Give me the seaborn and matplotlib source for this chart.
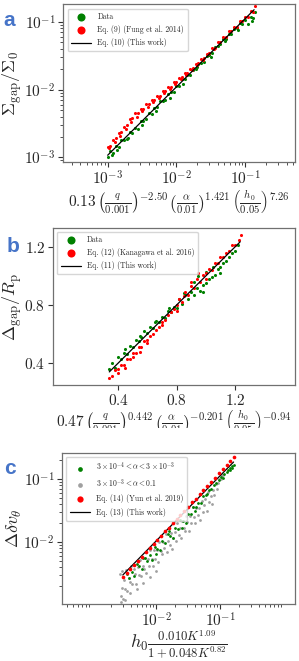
import numpy as np
import matplotlib
matplotlib.use("Agg")
import matplotlib.pyplot as plt
import seaborn as sns
from matplotlib.transforms import Bbox, TransformedBbox

# ---------------- data (panel a, log10 values) ----------------
a_data_logx = [-3.00, -2.96, -2.92, -2.88, -2.84, -2.80, -2.76, -2.72, -2.68, -2.64,
               -2.60, -2.56, -2.52, -2.48, -2.44, -2.40, -2.36, -2.32, -2.28, -2.24,
               -2.20, -2.16, -2.12, -2.08, -2.04, -2.00, -1.96, -1.92, -1.88, -1.84,
               -1.80, -1.76, -1.72, -1.68, -1.64, -1.60, -1.56, -1.52, -1.48, -1.44,
               -1.40, -1.36, -1.32, -1.28, -1.24, -1.20, -1.16, -1.12, -1.08, -1.04,
               -1.00, -0.96, -0.92, -0.88, -0.86,
               -2.94, -2.86, -2.70, -2.50, -2.30, -2.10, -1.90, -1.70, -1.50, -1.30,
               -1.10, -0.90]
a_data_logy = [-2.99, -2.91, -2.94, -2.84, -2.85, -2.74, -2.75, -2.73, -2.63, -2.64,
               -2.57, -2.58, -2.46, -2.46, -2.43, -2.34, -2.36, -2.27, -2.26, -2.17,
               -2.17, -2.15, -2.06, -2.04, -2.04, -1.95, -1.94, -1.85, -1.85, -1.78,
               -1.79, -1.71, -1.70, -1.62, -1.60, -1.59, -1.50, -1.49, -1.46, -1.37,
               -1.36, -1.33, -1.25, -1.25, -1.18, -1.18, -1.10, -1.09, -1.02, -1.03,
               -0.97, -1.03, -0.92, -0.94, -0.86,
               -2.97, -2.90, -2.71, -2.52, -2.31, -2.12, -1.91, -1.67, -1.52, -1.28,
               -1.12, -0.99]
a_fung_logx = [-3.00, -2.96, -2.92, -2.88, -2.84, -2.80, -2.76, -2.72, -2.68, -2.64,
               -2.60, -2.56, -2.52, -2.48, -2.44, -2.40, -2.36, -2.32, -2.28, -2.24,
               -2.20, -2.16, -2.12, -2.08, -2.04, -2.00, -1.96, -1.92, -1.88, -1.84,
               -1.80, -1.76, -1.72, -1.68, -1.64, -1.60, -1.56, -1.52, -1.48, -1.44,
               -1.40, -1.36, -1.32, -1.28, -1.24, -1.20, -1.16, -1.12, -1.08, -1.04,
               -1.00, -0.96, -0.92, -0.88, -0.86,
               -2.98, -2.90, -2.82, -2.74, -2.66, -2.58, -2.50, -2.42, -2.34, -2.26,
               -2.18, -2.10, -2.02, -1.94, -1.86, -1.78, -1.70, -1.62, -1.54, -1.46]
a_fung_logy = [-2.85, -2.83, -2.74, -2.72, -2.64, -2.63, -2.55, -2.53, -2.44, -2.42,
               -2.35, -2.35, -2.29, -2.29, -2.21, -2.21, -2.15, -2.15, -2.09, -2.09,
               -2.02, -2.02, -1.96, -1.96, -1.89, -1.89, -1.83, -1.82, -1.76, -1.75,
               -1.69, -1.68, -1.62, -1.61, -1.55, -1.54, -1.47, -1.46, -1.39, -1.38,
               -1.30, -1.29, -1.23, -1.23, -1.14, -1.14, -1.08, -1.08, -0.99, -0.99,
               -0.92, -0.93, -0.84, -0.85, -0.77,
               -2.87, -2.77, -2.68, -2.58, -2.48, -2.41, -2.31, -2.25, -2.18, -2.12,
               -2.05, -1.99, -1.92, -1.85, -1.78, -1.71, -1.63, -1.56, -1.48, -1.40]
a_fit_logx = [-3.00, -0.87]
a_fit_logy = [-2.97, -0.82]

# ---------------- data (panel b, linear) ----------------
b_data_x = [0.34, 0.36, 0.38, 0.40, 0.42, 0.44, 0.46, 0.48, 0.50, 0.52, 0.54, 0.56,
            0.58, 0.60, 0.62, 0.64, 0.66, 0.68, 0.70, 0.72, 0.74, 0.76, 0.78, 0.80,
            0.82, 0.84, 0.86, 0.88, 0.90, 0.92, 0.94, 0.96, 0.98, 1.00, 1.02, 1.04,
            1.06, 1.08, 1.10, 1.12, 1.14, 1.16, 1.18, 1.20, 1.22,
            0.45, 0.55, 0.65, 0.75, 0.85, 0.95, 1.05, 0.92, 1.00, 0.98, 1.10]
b_data_y = [0.36, 0.40, 0.37, 0.44, 0.43, 0.47, 0.46, 0.52, 0.51, 0.56, 0.55, 0.58,
            0.62, 0.61, 0.65, 0.64, 0.69, 0.68, 0.72, 0.71, 0.76, 0.75, 0.79, 0.78,
            0.84, 0.81, 0.87, 0.84, 0.89, 0.87, 0.92, 0.90, 0.94, 0.95, 0.98, 0.99,
            1.01, 1.05, 1.06, 1.09, 1.10, 1.13, 1.16, 1.17, 1.21,
            0.50, 0.59, 0.68, 0.78, 0.88, 1.00, 1.06, 0.96, 1.03, 0.89, 1.02]
b_kan_x = [0.34, 0.36, 0.38, 0.40, 0.42, 0.44, 0.46, 0.48, 0.50, 0.52, 0.54, 0.56,
           0.58, 0.60, 0.62, 0.64, 0.66, 0.68, 0.70, 0.72, 0.74, 0.76, 0.78, 0.80,
           0.82, 0.84, 0.86, 0.88, 0.90, 0.92, 0.94, 0.96, 0.98, 1.00, 1.02, 1.04,
           1.06, 1.08, 1.10, 1.12, 1.14, 1.16, 1.18, 1.20, 1.23, 1.24,
           0.40, 0.50, 0.60, 0.70, 0.80, 0.85, 0.90, 0.95, 1.00, 0.45, 0.55]
b_kan_y = [0.30, 0.31, 0.35, 0.36, 0.39, 0.39, 0.43, 0.43, 0.47, 0.47, 0.51, 0.51,
           0.55, 0.56, 0.59, 0.60, 0.63, 0.65, 0.68, 0.70, 0.73, 0.75, 0.77, 0.80,
           0.84, 0.82, 0.89, 0.87, 0.93, 0.92, 0.98, 0.96, 1.01, 1.02, 1.05, 1.04,
           1.09, 1.09, 1.13, 1.13, 1.16, 1.17, 1.21, 1.21, 1.25, 1.28,
           0.33, 0.44, 0.54, 0.66, 0.76, 0.86, 0.96, 1.02, 0.98, 0.37, 0.48]
b_fit_x = [0.34, 1.235]
b_fit_y = [0.34, 1.235]

# ---------------- data (panel c, log10 values) ----------------
c_low_logx = [-2.45, -2.42, -2.38, -2.34, -2.30, -2.26, -2.22, -2.18, -2.14, -2.10,
              -2.06, -2.02, -1.98, -1.94, -1.90, -1.86, -1.82, -1.78, -1.74, -1.70,
              -1.66, -1.62, -1.58, -1.54, -1.50, -1.46, -1.42, -1.38, -1.34, -1.30,
              -1.26, -1.22, -1.18, -1.14, -1.10, -1.06, -1.02, -0.98, -0.94, -0.90,
              -0.87, -0.84, -0.81, -0.79,
              -2.40, -2.20, -2.00, -1.80, -1.60, -1.40, -1.20, -0.96, -0.85, -0.82]
c_low_logy = [-2.51, -2.57, -2.47, -2.53, -2.34, -2.38, -2.43, -2.25, -2.30, -2.20,
              -2.29, -2.07, -2.11, -2.12, -1.98, -2.02, -1.87, -1.90, -1.93, -1.77,
              -1.79, -1.65, -1.67, -1.69, -1.55, -1.56, -1.44, -1.45, -1.38, -1.38,
              -1.27, -1.26, -1.18, -1.16, -1.09, -1.07, -1.01, -0.97, -0.92, -0.89,
              -0.85, -0.83, -0.79, -0.78,
              -2.42, -2.25, -2.18, -1.83, -1.78, -1.50, -1.24, -0.99, -0.86, -0.82]
c_high_logx = [-2.56, -2.55, -2.54, -2.53, -2.52, -2.50, -2.49, -2.47, -2.45, -2.43,
               -2.41, -2.39, -2.37, -2.35, -2.33, -2.31, -2.29, -2.27, -2.25, -2.23,
               -2.21, -2.19, -2.17, -2.15, -2.13, -2.11, -2.09, -2.07, -2.05, -2.03,
               -2.01, -1.99, -1.97, -1.95, -1.93, -1.91, -1.89, -1.87, -1.85, -1.83,
               -1.81, -1.79, -1.77, -1.75, -1.73, -1.71, -1.69, -1.67, -1.65, -1.63,
               -1.61, -1.59, -1.57, -1.55, -1.53, -1.51, -1.49, -1.47, -1.45, -1.43,
               -1.41, -1.39, -1.37, -1.35, -1.33, -1.31, -1.29, -1.27, -1.25, -1.23,
               -1.21, -1.19, -1.17, -1.15, -1.13, -1.11, -1.09, -1.07, -1.05, -1.03,
               -1.01, -0.99, -0.97, -0.95,
               -2.55, -2.48, -2.40, -2.30, -2.20, -2.10, -2.00]
c_high_logy = [-2.51, -2.85, -2.72, -2.45, -2.90, -2.60, -2.74, -2.44, -2.78, -2.57,
               -2.63, -2.37, -2.67, -2.43, -2.51, -2.66, -2.40, -2.52, -2.28, -2.54,
               -2.37, -2.42, -2.25, -2.49, -2.26, -2.38, -2.13, -2.27, -2.37, -2.13,
               -2.26, -2.13, -2.32, -2.00, -2.14, -2.19, -2.00, -2.10, -1.87, -2.15,
               -1.98, -2.05, -1.85, -2.11, -1.93, -1.84, -1.98, -1.70, -1.88, -1.78,
               -1.93, -1.67, -1.78, -1.82, -1.58, -1.68, -1.82, -1.58, -1.69, -1.45,
               -1.60, -1.69, -1.46, -1.57, -1.46, -1.65, -1.34, -1.52, -1.41, -1.32,
               -1.51, -1.21, -1.37, -1.27, -1.39, -1.17, -1.26, -1.08, -1.15, -1.07,
               -1.00, -1.00, -0.94, -0.94,
               -2.95, -2.92, -2.80, -2.75, -2.65, -2.55, -2.45]
c_yun_logx = [-2.52, -2.46, -2.40, -2.34, -2.28, -2.22, -2.16, -2.10, -2.04, -1.98,
              -1.92, -1.86, -1.80, -1.74, -1.68, -1.62, -1.56, -1.50, -1.44, -1.38,
              -1.32, -1.26, -1.20, -1.14, -1.08, -1.02, -0.96, -0.90, -0.84, -0.78]
c_yun_logy = [-2.56, -2.49, -2.43, -2.36, -2.30, -2.23, -2.16, -2.10, -2.03, -1.97,
              -1.90, -1.83, -1.77, -1.70, -1.64, -1.57, -1.50, -1.44, -1.37, -1.31,
              -1.24, -1.17, -1.11, -1.04, -0.98, -0.91, -0.84, -0.78, -0.71, -0.65]
c_fit_logx = [-2.52, -0.79]
c_fit_logy = [-2.52, -0.73]

# ---------------- style ----------------
sns.set_style("ticks")
plt.rcParams.update({
    "font.family": ["serif"],
    "font.serif": ["cmr10", "DejaVu Serif"],
    "mathtext.fontset": "cm",
    "axes.formatter.use_mathtext": True,
    "axes.unicode_minus": False,
    "xtick.direction": "out",
    "ytick.direction": "out",
})

W, H = 299, 661
fig = plt.figure(figsize=(W / 100, H / 100), dpi=100)


def rect(l, t, r, b):
    return [l / W, 1 - b / H, (r - l) / W, (b - t) / H]


ax_a = fig.add_axes(rect(63, 4, 295, 162))
ax_b = fig.add_axes(rect(53, 228, 295, 385))
ax_c = fig.add_axes(rect(62, 453, 295, 604))

pt = 5.0
GREEN, RED, GRAY = "#008000", "#ff0000", "#a0a0a0"


def style_axes(ax):
    for s in ax.spines.values():
        s.set_color("#707070")
        s.set_linewidth(0.9)
    ax.tick_params(which="major", length=3.5, width=0.8, labelsize=11, color="#333333", pad=2)
    ax.tick_params(which="minor", length=2, width=0.6, color="#333333")


def p10(v):
    return np.power(10.0, np.asarray(v))


LEG = dict(loc="upper left", fontsize=5.5, handlelength=2.6, labelspacing=0.55,
           borderpad=0.5, edgecolor="#cccccc")

# ---- panel a ----
ax = ax_a
sns.scatterplot(x=p10(a_data_logx), y=p10(a_data_logy), ax=ax, color=GREEN, s=pt,
                linewidth=0, label="Data", zorder=2)
sns.scatterplot(x=p10(a_fung_logx), y=p10(a_fung_logy), ax=ax, color=RED, s=pt,
                linewidth=0, label="Eq. (9) (Fung et al. 2014)", zorder=2)
sns.lineplot(x=p10(a_fit_logx), y=p10(a_fit_logy), ax=ax, color="black", lw=0.9,
             label="Eq. (10) (This work)", zorder=3)
ax.set_xscale("log")
ax.set_yscale("log")
ax.set_xlim(10 ** -3.65, 10 ** -0.275)
ax.set_ylim(10 ** -3.07, 10 ** -0.735)
ax.set_xlabel(r"$0.13\,\left(\frac{q}{0.001}\right)^{-2.50}\,\left(\frac{\alpha}{0.01}\right)^{1.421}\,\left(\frac{h_0}{0.05}\right)^{7.26}$",
              fontsize=11, labelpad=1)
ax.set_ylabel(r"$\Sigma_{\rm gap}/\Sigma_0$", fontsize=13)
ax.yaxis.set_label_coords((24 - 63) / 232, 0.5)
style_axes(ax)
ax.legend(markerscale=2.6, borderaxespad=0.6, **LEG)

# ---- panel b ----
ax = ax_b
sns.scatterplot(x=b_data_x, y=b_data_y, ax=ax, color=GREEN, s=pt, linewidth=0,
                label="Data", zorder=2)
sns.scatterplot(x=b_kan_x, y=b_kan_y, ax=ax, color=RED, s=pt, linewidth=0,
                label="Eq. (12) (Kanagawa et al. 2016)", zorder=2)
sns.lineplot(x=b_fit_x, y=b_fit_y, ax=ax, color="black", lw=0.9,
             label="Eq. (11) (This work)", zorder=3)
ax.set_xlim(-0.045, 1.61)
ax.set_ylim(0.25, 1.33)
ax.set_xticks([0.4, 0.8, 1.2])
ax.set_yticks([0.4, 0.8, 1.2])
xl = ax.set_xlabel(r"$0.47\,\left(\frac{q}{0.001}\right)^{0.442}\,\left(\frac{\alpha}{0.01}\right)^{-0.201}\,\left(\frac{h_0}{0.05}\right)^{-0.94}$",
                   fontsize=11, labelpad=1)
ax.set_ylabel(r"$\Delta_{\rm gap}/R_{\rm p}$", fontsize=13)
ax.yaxis.set_label_coords((24 - 53) / 242, 0.5)
style_axes(ax)
ax.legend(markerscale=2.6, borderaxespad=0.5, **LEG)
xl.set_clip_box(TransformedBbox(Bbox([[0, 1 - 428 / H], [1, 1]]), fig.transFigure))
xl.set_clip_on(True)

# ---- panel c ----
ax = ax_c
sns.scatterplot(x=p10(c_low_logx), y=p10(c_low_logy), ax=ax, color=GREEN, s=4,
                linewidth=0, label=r"$3\times10^{-4}<\alpha<3\times10^{-3}$", zorder=3)
sns.scatterplot(x=p10(c_high_logx), y=p10(c_high_logy), ax=ax, color=GRAY, s=4,
                linewidth=0, label=r"$3\times10^{-3}<\alpha<0.1$", zorder=2)
sns.scatterplot(x=p10(c_yun_logx), y=p10(c_yun_logy), ax=ax, color=RED, s=7,
                linewidth=0, label="Eq. (14) (Yun et al. 2019)", zorder=4)
sns.lineplot(x=p10(c_fit_logx), y=p10(c_fit_logy), ax=ax, color="black", lw=0.9,
             label="Eq. (13) (This work)", zorder=3.5)
ax.set_xscale("log")
ax.set_yscale("log")
ax.set_xlim(10 ** -3.47, 10 ** 0.17)
ax.set_ylim(10 ** -2.98, 10 ** -0.587)
ax.set_xticks([1e-2, 1e-1])
ax.set_xlabel(r"$h_0\frac{0.010K^{1.09}}{1+0.048K^{0.82}}$", fontsize=13)
ax.xaxis.set_label_coords(0.5, (604 - 629) / 151)
ax.set_ylabel(r"$\Delta\delta v_\theta$", fontsize=13)
ax.yaxis.set_label_coords((24 - 62) / 233, 0.5)
style_axes(ax)
ax.legend(markerscale=1.7, borderaxespad=0.5, **LEG)

# panel letters
for txt, x, y in [("a", 9, 20), ("b", 13, 246), ("c", 10, 469)]:
    fig.text(x / W, 1 - y / H, txt, color="#4674c8", fontsize=15, fontweight="bold",
             family="Liberation Sans", ha="center", va="center")

fig.savefig("out.png", dpi=100)
